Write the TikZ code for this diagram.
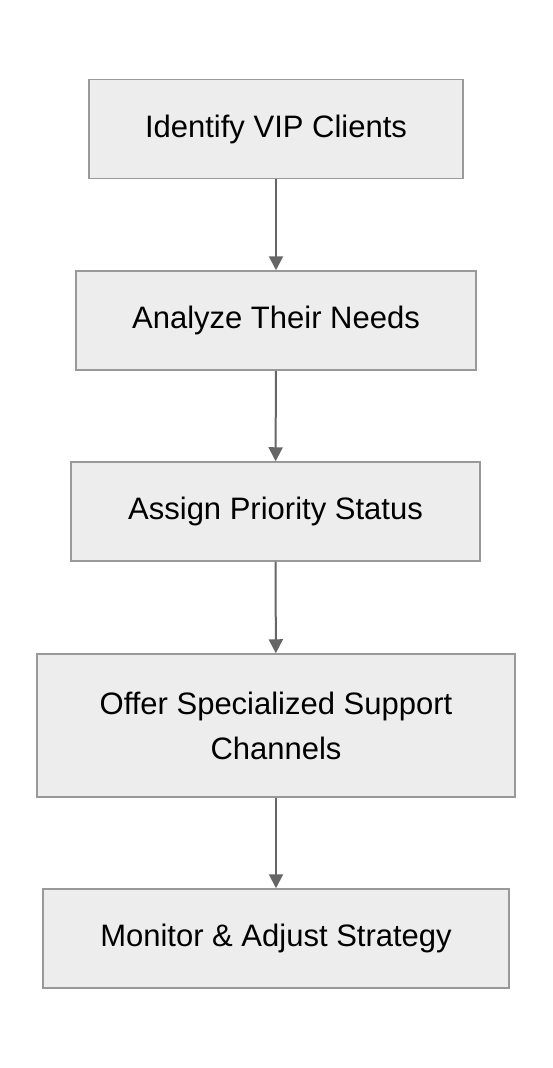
\documentclass[tikz,border=0pt]{standalone}
\usepackage{fontspec}
\setmainfont{Liberation Sans}
\usetikzlibrary{arrows.meta}
\begin{document}
\begin{tikzpicture}[x=1pt,y=-1pt,
  stepbox/.style={draw=black!40,fill=black!7,line width=1.5pt,inner sep=0pt,align=center,font=\fontsize{31}{45}\selectfont},
  conn/.style={draw=black!60,line width=2pt,-{Triangle[length=14pt,width=14pt]}}]
\useasboundingbox (0,0) rectangle (552,1068);
\node[stepbox,minimum width=374pt,minimum height=99pt] (a) at (276,129) {Identify VIP Clients};
\node[stepbox,minimum width=400pt,minimum height=99pt] (b) at (276,320.5) {Analyze Their Needs};
\node[stepbox,minimum width=409pt,minimum height=99pt] (c) at (275.5,511.5) {Assign Priority Status};
\node[stepbox,minimum width=478pt,minimum height=143pt] (d) at (276,725.5) {Offer Specialized Support\\Channels};
\node[stepbox,minimum width=466pt,minimum height=99pt] (e) at (276,938.5) {Monitor \& Adjust Strategy};
\draw[conn] (a) -- (b);
\draw[conn] (b) -- (c);
\draw[conn] (c) -- (d);
\draw[conn] (d) -- (e);
\end{tikzpicture}
\end{document}
